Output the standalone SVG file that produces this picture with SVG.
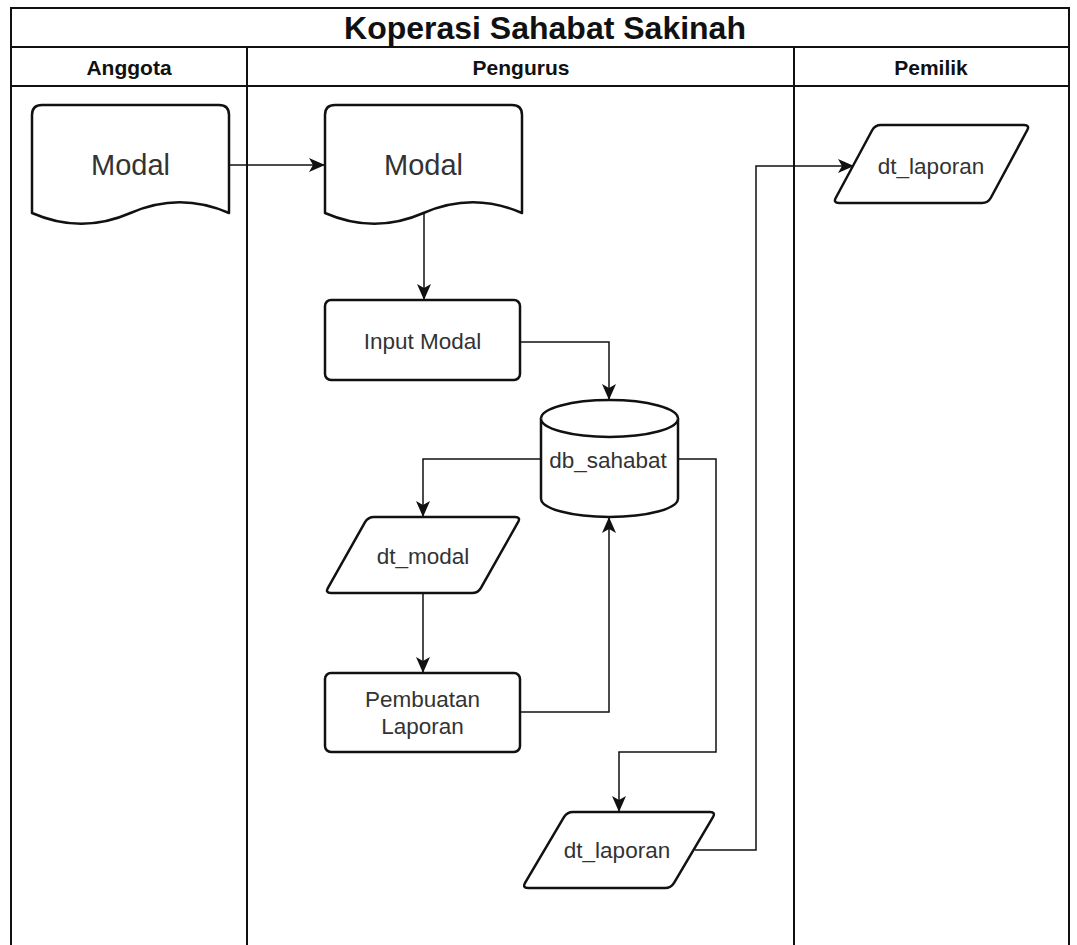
<svg xmlns="http://www.w3.org/2000/svg" width="1077" height="945" viewBox="0 0 1077 945">
<style>
.frame{fill:none;stroke:#111;stroke-width:2}
.shape{fill:#fff;stroke:#111;stroke-width:2.5;stroke-linejoin:round}
.conn{fill:none;stroke:#111;stroke-width:1.5}
.t{font-family:"Liberation Sans",Arial,sans-serif;fill:#333;text-anchor:middle}
.h{font-family:"Liberation Sans",Arial,sans-serif;font-weight:bold;fill:#111;text-anchor:middle}
</style>
<defs>
<marker id="arr" markerUnits="userSpaceOnUse" markerWidth="16" markerHeight="14" viewBox="0 0 16 14" refX="15" refY="7" orient="auto">
<path d="M0,0 L16,7 L0,14 L4,7 Z" fill="#111"/>
</marker>
</defs>
<rect width="1077" height="945" fill="#fff"/>
<g id="pool">
<path class="frame" d="M11,946 L11,8 L1069,8 L1069,946 M11,47 L1069,47 M11,86 L1069,86 M247,47 L247,946 M794,47 L794,946"/>
<text class="h" x="545" y="39" font-size="32">Koperasi Sahabat Sakinah</text>
<text class="h" x="129" y="75" font-size="21">Anggota</text>
<text class="h" x="521" y="75" font-size="21">Pengurus</text>
<text class="h" x="931" y="75" font-size="21">Pemilik</text>
</g>
<g id="connectors">
<path class="conn" d="M229,165 L324,165" marker-end="url(#arr)"/>
<path class="conn" d="M424,213 L424,299" marker-end="url(#arr)"/>
<path class="conn" d="M520,342 L609,342 L609,399" marker-end="url(#arr)"/>
<path class="conn" d="M541,459 L423,459 L423,516" marker-end="url(#arr)"/>
<path class="conn" d="M423,593 L423,672" marker-end="url(#arr)"/>
<path class="conn" d="M520,712 L609,712 L609,518" marker-end="url(#arr)"/>
<path class="conn" d="M678,459 L716,459 L716,752 L619,752 L619,811" marker-end="url(#arr)"/>
<path class="conn" d="M695,850 L756,850 L756,166 L853,166" marker-end="url(#arr)"/>
</g>
<g id="modal-anggota">
<path class="shape" d="M32,115 Q32,105 42,105 L219,105 Q229,105 229,115 L229,213 Q179.75,191.4 130.5,213 Q81.25,234.6 32,213 Z"/>
<text class="t" x="130.5" y="175" font-size="29">Modal</text>
</g>
<g id="modal-pengurus">
<path class="shape" d="M325,115 Q325,105 335,105 L512,105 Q522,105 522,115 L522,213 Q472.75,191.4 423.5,213 Q374.25,234.6 325,213 Z"/>
<text class="t" x="423.5" y="175" font-size="29">Modal</text>
</g>
<g id="input-modal">
<rect class="shape" x="325" y="300" width="195" height="80" rx="6"/>
<text class="t" x="422.5" y="349" font-size="22.5">Input Modal</text>
</g>
<g id="db-sahabat">
<path class="shape" d="M541,418.5 A68.5,18.5 0 0 1 678,418.5 L678,498.5 A68.5,18.5 0 0 1 541,498.5 Z"/>
<path class="shape" fill="none" d="M541,418.5 A68.5,18.5 0 0 0 678,418.5"/>
<text class="t" x="608" y="468" font-size="22.5">db_sahabat</text>
</g>
<g id="dt-modal">
<path class="shape" d="M374,517 L515,517 Q521,517 518.04,522.22 L480.96,587.78 Q478,593 472,593 L331,593 Q325,593 327.960,587.78 L365.04,522.22 Q368,517 374,517 Z"/>
<text class="t" x="423" y="564" font-size="22.5">dt_modal</text>
</g>
<g id="pembuatan-laporan">
<rect class="shape" x="325" y="673" width="195" height="79" rx="6"/>
<text class="t" x="422.5" y="707" font-size="22.5">Pembuatan</text>
<text class="t" x="422.5" y="734" font-size="22.5">Laporan</text>
</g>
<g id="dt-laporan-pengurus">
<path class="shape" d="M573,812 L710,812 Q716,812 712.94,817.16 L674.06,882.84 Q671,888 665,888 L528,888 Q522,888 525.06,882.84 L563.94,817.16 Q567,812 573,812 Z"/>
<text class="t" x="617" y="858" font-size="22.5">dt_laporan</text>
</g>
<g id="dt-laporan-pemilik">
<path class="shape" d="M881,125 L1024,125 Q1030,125 1027.16,130.28 L990.84,197.72 Q988,203 982,203 L839,203 Q833,203 835.84,197.72 L872.16,130.28 Q875,125 881,125 Z"/>
<text class="t" x="931" y="174" font-size="22.5">dt_laporan</text>
</g>
</svg>
